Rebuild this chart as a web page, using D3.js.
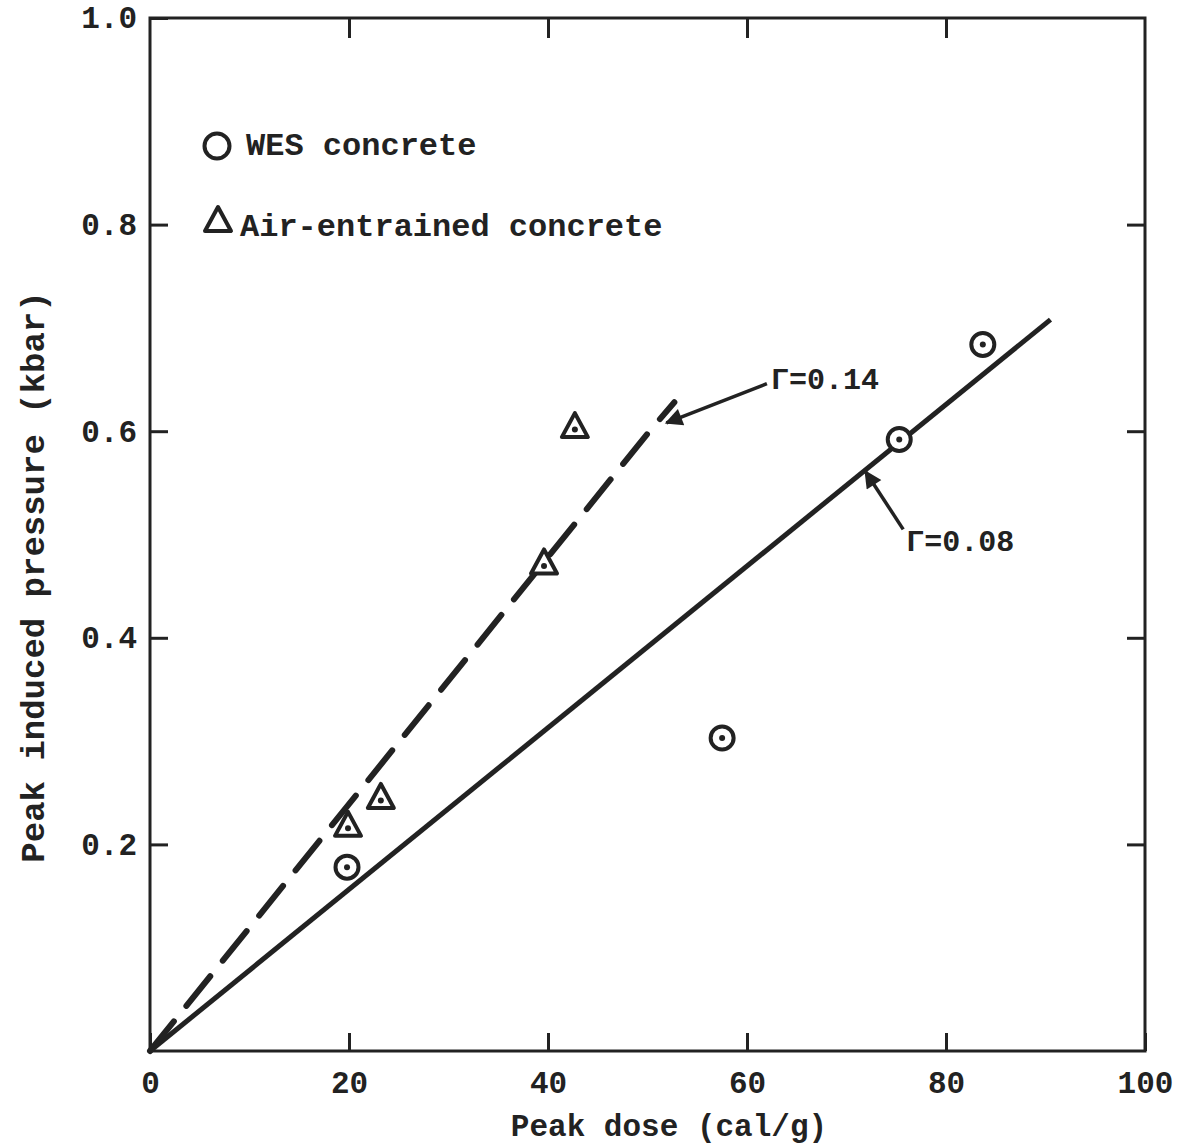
<!DOCTYPE html>
<html>
<head>
<meta charset="utf-8">
<script src="https://cdn.jsdelivr.net/npm/d3@7"></script>
<style>
  body { margin: 0; background: #fff; }
  text { font-family: "Liberation Mono", "DejaVu Sans Mono", monospace; fill: #222; }
</style>
</head>
<body>
<div id="chart"></div>
<script>
// data
var xTicks = [0, 20, 40, 60, 80, 100];
var yTicks = [0.2, 0.4, 0.6, 0.8, 1.0];
var wesDose = [19.8, 57.5, 75.3, 83.7];
var wesPressure = [0.178, 0.303, 0.592, 0.684];
var airDose = [19.9, 23.2, 39.6, 42.7];
var airPressure = [0.217, 0.244, 0.471, 0.603];
var fitSolid = [[0, 0], [90.5, 0.708]];          // Γ=0.08
var fitDashed = [[0, 0], [50.2, 0.600], [52.7, 0.628]]; // Γ=0.14
var notes = [
  {label: "Γ=0.14", tx: 62.4, ty: 0.641, from: [62.0, 0.646], to: [51.9, 0.608]},
  {label: "Γ=0.08", tx: 76.0, ty: 0.484, from: [75.7, 0.505], to: [71.9, 0.561]}
];

var width = 1186, height = 1148;
var ink = "#222";

var svg = d3.select("#chart").append("svg")
    .attr("width", width)
    .attr("height", height);

var x = d3.scaleLinear().domain([0, 100]).range([150, 1145]);
var y = d3.scaleLinear().domain([0, 1]).range([1051, 18]);

svg.append("defs").append("marker")
    .attr("id", "head")
    .attr("viewBox", "0 0 10 10")
    .attr("refX", 9).attr("refY", 5)
    .attr("markerWidth", 7).attr("markerHeight", 5)
    .attr("markerUnits", "strokeWidth")
    .attr("orient", "auto")
  .append("path")
    .attr("d", "M0,0 L10,5 L0,10 Z")
    .attr("fill", ink);

// frame
svg.append("rect")
    .attr("x", x(0)).attr("y", y(1))
    .attr("width", x(100) - x(0)).attr("height", y(0) - y(1))
    .attr("fill", "none").attr("stroke", ink).attr("stroke-width", 3);

// axes with inward ticks
var xAxis = svg.append("g")
    .attr("transform", "translate(0," + y(0) + ")")
    .call(d3.axisBottom(x).tickValues(xTicks).tickSize(-18).tickPadding(20)
        .tickFormat(d3.format("d")));
var xTop = svg.append("g")
    .attr("transform", "translate(0," + y(1) + ")")
    .call(d3.axisTop(x).tickValues([20, 40, 60, 80]).tickSize(-20).tickFormat(""));
var yAxis = svg.append("g")
    .attr("transform", "translate(" + x(0) + ",0)")
    .call(d3.axisLeft(y).tickValues(yTicks).tickSize(-18).tickPadding(13)
        .tickFormat(d3.format(".1f")));
var yRight = svg.append("g")
    .attr("transform", "translate(" + x(100) + ",0)")
    .call(d3.axisRight(y).tickValues([0.2, 0.4, 0.6, 0.8]).tickSize(-18).tickFormat(""));

[xAxis, xTop, yAxis, yRight].forEach(function(g){
    g.select(".domain").remove();
    g.selectAll(".tick line").attr("stroke", ink).attr("stroke-width", 3);
});
xAxis.selectAll("text").attr("font-size", "31px").attr("font-weight", "bold")
    .attr("fill", ink).style("font-family", "Liberation Mono");
yAxis.selectAll("text").attr("font-size", "31px").attr("font-weight", "bold")
    .attr("fill", ink).style("font-family", "Liberation Mono");

// axis titles
svg.append("text")
    .attr("x", 669).attr("y", 1136)
    .attr("text-anchor", "middle")
    .attr("font-size", "31px").attr("font-weight", "bold")
    .text("Peak dose (cal/g)");
svg.append("text")
    .attr("transform", "translate(44,577) rotate(-90)")
    .attr("text-anchor", "middle")
    .attr("font-size", "34px").attr("font-weight", "bold")
    .text("Peak induced pressure (kbar)");

// fitted lines
var line = d3.line().x(function(d){ return x(d[0]); }).y(function(d){ return y(d[1]); });
svg.append("path")
    .attr("d", line(fitSolid))
    .attr("fill", "none").attr("stroke", ink).attr("stroke-width", 5);
svg.append("path")
    .attr("d", line(fitDashed))
    .attr("fill", "none").attr("stroke", ink).attr("stroke-width", 6)
    .attr("stroke-dasharray", "38,20").attr("stroke-linecap", "round");

// WES points
var wes = svg.append("g").selectAll("g")
    .data(d3.range(wesDose.length))
    .enter().append("g")
    .attr("transform", function(i){ return "translate(" + x(wesDose[i]) + "," + y(wesPressure[i]) + ")"; });
wes.append("circle").attr("r", 11.5).attr("fill", "#fff").attr("stroke", ink).attr("stroke-width", 4);
wes.append("circle").attr("r", 3).attr("fill", ink);

// air-entrained points
var tri = "M0,-15 L13,9 L-13,9 Z";
var air = svg.append("g").selectAll("g")
    .data(d3.range(airDose.length))
    .enter().append("g")
    .attr("transform", function(i){ return "translate(" + x(airDose[i]) + "," + y(airPressure[i]) + ")"; });
air.append("path").attr("d", tri).attr("fill", "#fff").attr("stroke", ink)
    .attr("stroke-width", 4).attr("stroke-linejoin", "round");
air.append("circle").attr("cy", 1.5).attr("r", 3).attr("fill", ink);

// legend
var legend = svg.append("g");
legend.append("circle").attr("cx", 217).attr("cy", 146).attr("r", 12.5)
    .attr("fill", "none").attr("stroke", ink).attr("stroke-width", 4);
legend.append("text").attr("x", 246).attr("y", 155)
    .attr("font-size", "32px").attr("font-weight", "bold").text("WES concrete");
legend.append("path").attr("d", tri).attr("transform", "translate(218,222)")
    .attr("fill", "none").attr("stroke", ink).attr("stroke-width", 4).attr("stroke-linejoin", "round");
legend.append("text").attr("x", 240).attr("y", 236)
    .attr("font-size", "32px").attr("font-weight", "bold").text("Air-entrained concrete");

// Γ annotations
var ann = svg.append("g").selectAll("g").data(notes).enter().append("g");
ann.append("line")
    .attr("x1", function(d){ return x(d.from[0]); }).attr("y1", function(d){ return y(d.from[1]); })
    .attr("x2", function(d){ return x(d.to[0]); }).attr("y2", function(d){ return y(d.to[1]); })
    .attr("stroke", ink).attr("stroke-width", 3.5)
    .attr("marker-end", "url(#head)");
ann.append("text")
    .attr("x", function(d){ return x(d.tx); }).attr("y", function(d){ return y(d.ty); })
    .attr("font-size", "30px").attr("font-weight", "bold")
    .text(function(d){ return d.label; });
</script>
</body>
</html>
